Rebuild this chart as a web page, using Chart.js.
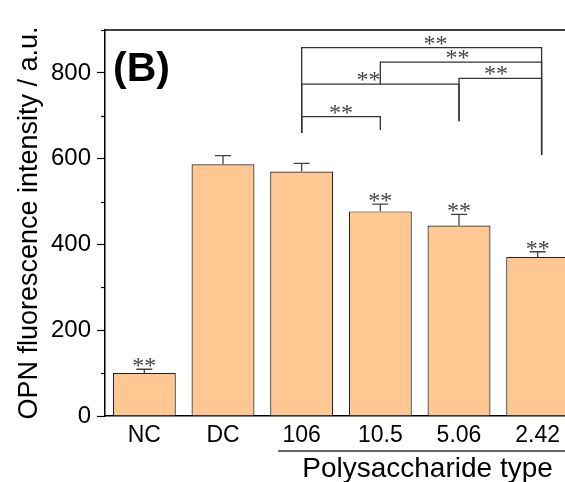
<!DOCTYPE html>
<html>
<head>
<meta charset="utf-8">
<script src="https://cdn.jsdelivr.net/npm/chart.js@4"></script>
<style>
html,body{margin:0;padding:0;background:#fff;overflow:hidden}
#wrap{width:577px;height:482px}
</style>
</head>
<body>
<div id="wrap"><canvas id="chart" width="577" height="482"></canvas></div>
<script>
// data
const categories = ["NC","DC","106","10.5","5.06","2.42"]
const means = [100, 587, 570, 477, 444, 371]
const errors = [9, 20, 19, 17, 26, 12]
const starred = [true, false, false, true, true, true]
const yTicks = [0, 200, 400, 600, 800]

// significance brackets (category index, values in a.u.)
const brackets = [
  {from:2, to:3, y:698, dropL:660, dropR:667, starAt:2.5},
  {from:2, to:4, y:774, dropL:660, dropR:687, starAt:2.85},
  {from:4, to:5.05, y:787, dropL:687, dropR:609, starAt:4.47},
  {from:3, to:5.05, y:825, dropL:774, dropR:609, starAt:3.98},
  {from:2, to:5.05, y:859, dropL:660, dropR:609, starAt:3.7}
]

const groupLabel = "Polysaccharide type"
const groupFrom = 1.7
const groupTo = 5.5

const starFont = "24px 'Liberation Serif'"
const starColor = "#444"

let extras = {
  id:"extras",
  afterDatasetsDraw(chart){
    let ctx = chart.ctx
    let x = chart.scales.x
    let y = chart.scales.y
    let area = chart.chartArea
    ctx.save()

    // top frame
    ctx.strokeStyle = "#000"
    ctx.lineWidth = 1.5
    ctx.beginPath()
    ctx.moveTo(area.left, area.top)
    ctx.lineTo(area.right, area.top)
    ctx.stroke()

    // minor ticks
    ctx.lineWidth = 1.2
    for(let v=100; v<=900; v+=200){
      let py = Math.round(y.getPixelForValue(v))+0.5
      ctx.beginPath()
      ctx.moveTo(area.left-4, py)
      ctx.lineTo(area.left, py)
      ctx.stroke()
    }

    // error bars + stars
    ctx.strokeStyle = "#444"
    ctx.lineWidth = 1.3
    ctx.font = starFont
    ctx.fillStyle = starColor
    ctx.textAlign = "center"
    ctx.textBaseline = "alphabetic"
    means.forEach((m,i)=>{
      let px = x.getPixelForValue(i)
      let top = y.getPixelForValue(m+errors[i])
      let base = y.getPixelForValue(m)
      ctx.beginPath()
      ctx.moveTo(px, base)
      ctx.lineTo(px, top)
      ctx.moveTo(px-8, top)
      ctx.lineTo(px+8, top)
      ctx.stroke()
      if(starred[i]){
        ctx.fillText("**", px, top+4)
      }
    })

    // brackets
    ctx.strokeStyle = "#333"
    ctx.lineWidth = 1.3
    brackets.forEach(b=>{
      let x1 = x.getPixelForValue(b.from)
      let x2 = x.getPixelForValue(b.to)
      let py = y.getPixelForValue(b.y)
      ctx.beginPath()
      ctx.moveTo(x1, y.getPixelForValue(b.dropL))
      ctx.lineTo(x1, py)
      ctx.lineTo(x2, py)
      ctx.lineTo(x2, y.getPixelForValue(b.dropR))
      ctx.stroke()
      ctx.fillText("**", x.getPixelForValue(b.starAt), py+3)
    })

    // panel letter
    ctx.fillStyle = "#000"
    ctx.textAlign = "left"
    ctx.font = "bold 41px 'Liberation Sans'"
    ctx.fillText("(B)", area.left+8, y.getPixelForValue(800)+8)

    // group underline + label
    let gx1 = x.getPixelForValue(groupFrom)
    let gx2 = x.getPixelForValue(groupTo)
    ctx.strokeStyle = "#666"
    ctx.lineWidth = 2
    ctx.beginPath()
    ctx.moveTo(gx1, area.bottom+35)
    ctx.lineTo(gx2, area.bottom+35)
    ctx.stroke()
    ctx.textAlign = "center"
    ctx.font = "28px 'Liberation Sans'"
    ctx.fillText(groupLabel, (gx1+gx2)/2, area.bottom+61)

    ctx.restore()
  }
}

let chart = new Chart(document.getElementById("chart"),{
  type:"bar",
  data:{
    labels:categories,
    datasets:[{
      data:means,
      backgroundColor:"#FFC893",
      borderColor:"#222",
      borderWidth:1.2,
      categoryPercentage:1,
      barPercentage:0.8
    }]
  },
  options:{
    responsive:false,
    animation:false,
    layout:{padding:{top:30,left:0,right:0,bottom:0}},
    plugins:{legend:{display:false},tooltip:{enabled:false}},
    scales:{
      x:{
        afterFit:s=>{s.height=66},
        grid:{display:true,drawOnChartArea:false,drawTicks:false},
        border:{display:true,color:"#000",width:1.5},
        ticks:{color:"#000",font:{family:"Liberation Sans",size:23},padding:6}
      },
      y:{
        min:0,max:900,
        afterFit:s=>{s.width=105},
        afterBuildTicks:s=>{s.ticks=[0,100,200,300,400,500,600,700,800,900].map(v=>({value:v}))},
        grid:{display:true,drawOnChartArea:false,tickLength:8,
          tickColor:c=>yTicks.includes(c.tick.value)?"#000":"rgba(0,0,0,0)",tickWidth:1.2},
        border:{display:true,color:"#000",width:1.5},
        ticks:{color:"#000",font:{family:"Liberation Sans",size:24},padding:6,
          callback:v=>yTicks.includes(v)?String(v):""},
        title:{display:true,text:"OPN fluorescence intensity / a.u.",color:"#000",
          font:{family:"Liberation Sans",size:27},padding:{top:13,bottom:0}}
      }
    }
  },
  plugins:[extras]
})
</script>
</body>
</html>
